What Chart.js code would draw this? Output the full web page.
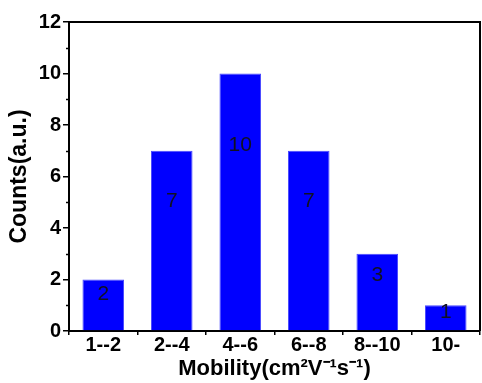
<!DOCTYPE html>
<html>
<head>
<meta charset="UTF-8">
<title>Mobility histogram</title>
<script src="https://cdn.jsdelivr.net/npm/chart.js"></script>
<style>
  html, body { margin: 0; padding: 0; background: #fff; }
  #wrap { width: 482px; height: 383px; }
</style>
</head>
<body>
<div id="wrap"><canvas id="mobChart"></canvas></div>
<script>
// data
const ranges = ['1--2', '2--4', '4--6', '6--8', '8--10', '10-'];
const counts = [2, 7, 10, 7, 3, 1];
const yMinorTicks = [1, 3, 5, 7, 9, 11];

const FONT = 'Liberation Sans, Arial, sans-serif';

// value labels inside the bars, top frame, right frame and minor ticks
const extras = {
  id: 'extras',
  afterDatasetsDraw(chart) {
    const ctx = chart.ctx;
    const x = chart.scales.x, y = chart.scales.y;
    ctx.save();
    ctx.font = '21px ' + FONT;
    ctx.fillStyle = '#111122';
    ctx.textAlign = 'center';
    ctx.textBaseline = 'middle';
    counts.forEach((v, i) => {
      ctx.fillText(String(v), x.getPixelForValue(i), y.getPixelForValue(v * 0.72));
    });
    ctx.restore();
  },
  afterDraw(chart) {
    const ctx = chart.ctx;
    const a = chart.chartArea, y = chart.scales.y;
    ctx.save();
    ctx.strokeStyle = '#000';
    ctx.lineWidth = 2;
    ctx.beginPath();
    ctx.moveTo(a.left, a.top);
    ctx.lineTo(a.right, a.top);
    ctx.lineTo(a.right, a.bottom);
    ctx.stroke();
    ctx.lineWidth = 1.5;
    yMinorTicks.forEach(v => {
      const py = Math.round(y.getPixelForValue(v)) + 0.5;
      ctx.beginPath();
      ctx.moveTo(a.left - 3, py);
      ctx.lineTo(a.left, py);
      ctx.stroke();
    });
    ctx.restore();
  }
};

new Chart(document.getElementById('mobChart'), {
  type: 'bar',
  data: {
    labels: ranges,
    datasets: [{
      data: counts,
      backgroundColor: '#0000ff',
      borderColor: '#4848ff',
      borderWidth: 1,
      barPercentage: 0.607,
      categoryPercentage: 1.0
    }]
  },
  options: {
    responsive: true,
    maintainAspectRatio: false,
    animation: false,
    layout: { padding: { top: 22, right: 2, left: 0, bottom: 0 } },
    plugins: { legend: { display: false }, tooltip: { enabled: false } },
    scales: {
      x: {
        offset: true,
        afterFit(s) { s.height = 52; },
        grid: { display: true, offset: true, drawOnChartArea: false, color: '#000', lineWidth: 1.5, tickLength: 4 },
        border: { display: true, color: '#000', width: 2 },
        ticks: { color: '#000', padding: -2, font: { family: FONT, size: 20, weight: 'bold' } },
        title: {
          display: true,
          text: 'Mobility(cm²V⁻¹s⁻¹)',
          color: '#000',
          font: { family: FONT, size: 22, weight: 'bold' },
          padding: { top: 0, bottom: 1 }
        }
      },
      y: {
        min: 0,
        max: 12,
        afterFit(s) { s.width = 69; },
        grid: { display: true, drawOnChartArea: false, color: '#000', lineWidth: 1.5, tickLength: 6 },
        border: { display: true, color: '#000', width: 2 },
        ticks: { stepSize: 2, color: '#000', padding: 2, font: { family: FONT, size: 20, weight: 'bold' } },
        title: {
          display: true,
          text: 'Counts(a.u.)',
          color: '#000',
          font: { family: FONT, size: 23, weight: 'bold' },
          padding: { top: 6, bottom: 0 }
        }
      }
    }
  },
  plugins: [extras]
});
</script>
</body>
</html>
